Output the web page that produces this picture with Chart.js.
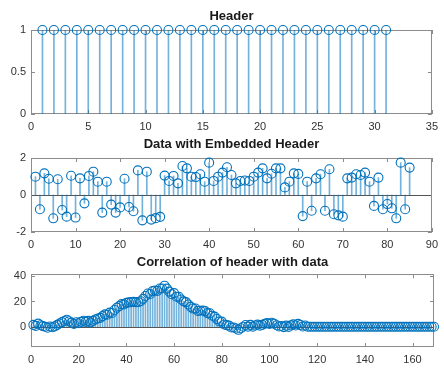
<!DOCTYPE html>
<html lang="en">
<head>
<meta charset="UTF-8">
<title>Header correlation</title>
<script src="https://cdn.jsdelivr.net/npm/chart.js"></script>
<style>
  body { margin: 0; background: #fff; }
  #wrap { position: relative; width: 444px; height: 371px; }
  .plot { position: absolute; left: 0; width: 444px; }
</style>
</head>
<body>
<div id="wrap">
  <div class="plot" style="top:0;height:136px"><canvas id="headerChart"></canvas></div>
  <div class="plot" style="top:130px;height:122px"><canvas id="dataChart"></canvas></div>
  <div class="plot" style="top:248px;height:123px"><canvas id="corrChart"></canvas></div>
</div>
<script>
  var headerValues = [1, 1, 1, 1, 1, 1, 1, 1, 1, 1, 1, 1, 1, 1, 1, 1, 1, 1, 1, 1, 1, 1, 1, 1, 1, 1, 1, 1, 1, 1, 1];

  var dataValues = [0.99, -0.77, 1.17, 0.88, -1.26, 0.85, -0.81, -1.17, 1.04, -1.22,
    0.9, -0.45, 1.03, 1.26, 0.72, -0.95, 0.72, -0.52, -0.95, -0.67,
    0.88, -0.65, -0.88, 1.33, -1.37, 1.26, -1.33, -1.25, -1.18, 1.05,
    0.76, 1.03, 0.63, 1.57, 1.44, 0.99, 0.97, 1.12, 0.72, 1.75,
    0.76, 0.99, 1.21, 1.5, 1.08, 0.63, 0.76, 0.78, 0.76, 0.99,
    1.21, 1.44, 0.9, 1.15, 1.44, 1.44, 0.41, 0.72, 1.17, 1.14,
    -1.14, 0.72, -0.85, 0.9, 1.12, -0.85, 1.39, -1.04, -1.1, -1.17,
    0.9, 0.94, 1.12, 1.08, 1.21, 0.72, -0.59, 0.94, -0.77, -0.49,
    -0.72, -1.26, 1.75, -0.77, 1.48];

  var corrValues = [1.5, 0.7, 2.5, 1.2, 0.5, 0.0, -0.8, 0.2, -0.4, 0.3,
    1.5, 2.6, 3.7, 4.6, 5.5, 4.4, 3.3, 2.2, 3.6, 2.8,
    3.9, 4.8, 3.9, 4.7, 3.5, 4.7, 5.8, 6.6, 7.0, 8.4,
    9.8, 9.5, 11.2, 10.9, 13.3, 15.1, 16.3, 17.9, 17.7, 18.9,
    19.3, 19.5, 19.7, 19.5, 19.4, 20.2, 22.1, 24.3, 26.3, 25.9,
    28.2, 28.7, 28.4, 30.3, 30.3, 32.5, 30.2, 27.8, 25.7, 26.6,
    23.8, 23.7, 21.6, 20.1, 19.5, 17.6, 15.7, 14.4, 14.4, 12.6,
    12.7, 12.9, 12.4, 10.8, 10.7, 8.7, 8.0, 6.1, 4.2, 4.1,
    1.8, 1.3, 0.9, -0.6, -0.6, -1.4, -2.4, -1.2, 0.0, 1.4,
    0.1, 1.5, 0.1, 1.0, 1.7, 0.8, 1.5, 2.4, 2.9, 2.2,
    3.2, 2.4, 1.2, 0.2, 0.6, -0.3, 0.9, -0.1, 1.1, 1.9,
    1.0, 2.3, 1.4, 0.2, 1.0, 0, 0, 0, 0, 0,
    0, 0, 0, 0, 0, 0, 0, 0, 0, 0,
    0, 0, 0, 0, 0, 0, 0, 0, 0, 0,
    0, 0, 0, 0, 0, 0, 0, 0, 0, 0,
    0, 0, 0, 0, 0, 0, 0, 0, 0, 0,
    0, 0, 0, 0, 0, 0, 0, 0, 0];

  var headerXTicks = [0, 5, 10, 15, 20, 25, 30, 35];
  var headerYTicks = [0, 0.5, 1];
  var dataXTicks = [0, 10, 20, 30, 40, 50, 60, 70, 80, 90];
  var dataYTicks = [-2, 0, 2];
  var corrXTicks = [0, 20, 40, 60, 80, 100, 120, 140, 160];
  var corrYTicks = [0, 20, 40];

  var stemBlue = '#0072BD';
  var fontFamily = "'Liberation Sans', Arial, sans-serif";

  // matlab style box with inward tick marks on all four sides
  var boxPlugin = {
    id: 'matlabBox',
    beforeDatasetsDraw: function (chart) {
      var ctx = chart.ctx;
      var a = chart.chartArea;
      var x = chart.scales.x;
      var y = chart.scales.y;
      var len = 4;
      ctx.save();
      ctx.strokeStyle = '#8c8c8c';
      ctx.lineWidth = 1;
      ctx.beginPath();
      x.ticks.forEach(function (t) {
        var px = Math.round(x.getPixelForValue(t.value)) + 0.5;
        ctx.moveTo(px, a.bottom); ctx.lineTo(px, a.bottom - len);
        ctx.moveTo(px, a.top); ctx.lineTo(px, a.top + len);
      });
      y.ticks.forEach(function (t) {
        var py = Math.round(y.getPixelForValue(t.value)) + 0.5;
        ctx.moveTo(a.left, py); ctx.lineTo(a.left + len, py);
        ctx.moveTo(a.right, py); ctx.lineTo(a.right - len, py);
      });
      ctx.stroke();
      // baseline of the stems
      if (y.min < 0) {
        var zy = Math.round(y.getPixelForValue(0)) + 0.5;
        ctx.strokeStyle = '#555';
        ctx.beginPath();
        ctx.moveTo(a.left, zy); ctx.lineTo(a.right, zy);
        ctx.stroke();
      }
      ctx.strokeStyle = '#8c8c8c';
      ctx.strokeRect(Math.round(a.left) + 0.5, Math.round(a.top) + 0.5,
        Math.round(a.right - a.left) - 1, Math.round(a.bottom - a.top) - 1);
      ctx.restore();
    }
  };

  function makeStem(id, title, values, xTicks, yTicks, xMax, yMin, yMax, pad, xHeight) {
    var points = values.map(function (v, i) { return { x: i + 1, y: v }; });
    return new Chart(document.getElementById(id), {
      type: 'bar',
      data: {
        datasets: [{
          type: 'scatter',
          data: points,
          pointStyle: 'circle',
          pointRadius: 4.5,
          backgroundColor: 'rgba(0,0,0,0)',
          borderColor: stemBlue,
          borderWidth: 1.1,
          clip: false
        }, {
          type: 'bar',
          data: points,
          barThickness: 1,
          backgroundColor: 'rgba(0,114,189,0.55)',
          borderWidth: 0
        }]
      },
      options: {
        responsive: true,
        maintainAspectRatio: false,
        animation: false,
        layout: { padding: { left: 0, right: 10, top: 0, bottom: 0 } },
        plugins: {
          legend: { display: false },
          tooltip: { enabled: false },
          title: {
            display: true,
            fullSize: false,
            text: title,
            color: '#1a1a1a',
            font: { family: fontFamily, size: 13, weight: 'bold' },
            padding: pad
          }
        },
        scales: {
          x: {
            type: 'linear',
            offset: false,
            min: 0,
            max: xMax,
            grid: { display: false, drawTicks: false, offset: false },
            border: { display: false },
            ticks: {
              color: '#333', font: { family: fontFamily, size: 11 }, padding: 6, maxRotation: 0,
              callback: function (v) { return String(v); }
            },
            afterBuildTicks: function (s) { s.ticks = xTicks.map(function (v) { return { value: v }; }); },
            afterFit: function (s) { s.height = xHeight; }
          },
          y: {
            min: yMin,
            max: yMax,
            grid: { display: false, drawTicks: false },
            border: { display: false },
            ticks: {
              color: '#333', font: { family: fontFamily, size: 11 }, padding: 5,
              callback: function (v) { return String(v); }
            },
            afterBuildTicks: function (s) { s.ticks = yTicks.map(function (v) { return { value: v }; }); },
            afterFit: function (s) { s.width = 31; }
          }
        }
      },
      plugins: [boxPlugin]
    });
  }

  makeStem('headerChart', 'Header', headerValues, headerXTicks, headerYTicks, 35, 0, 1,
    { top: 9, bottom: 5.4 }, 22);
  makeStem('dataChart', 'Data with Embedded Header', dataValues, dataXTicks, dataYTicks, 90, -2, 2,
    { top: 7, bottom: 5.4 }, 20);
  makeStem('corrChart', 'Correlation of header with data', corrValues, corrXTicks, corrYTicks, 169, -16, 41.5,
    { top: 6.5, bottom: 4.2 }, 24);
</script>
</body>
</html>
